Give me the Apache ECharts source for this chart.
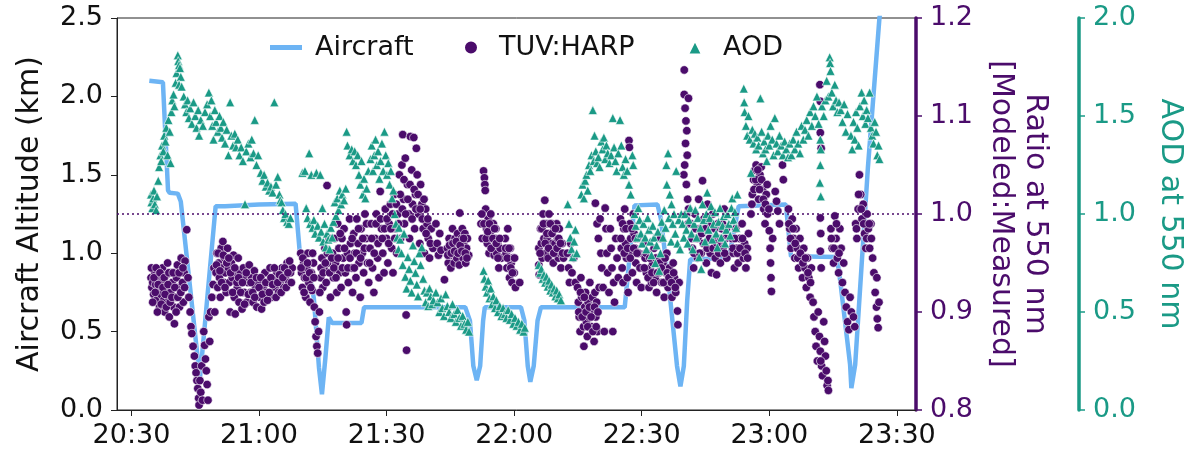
<!DOCTYPE html>
<html>
<head>
<meta charset="utf-8">
<script src="https://cdn.jsdelivr.net/npm/echarts@6/dist/echarts.min.js"></script>
<style>
html,body{margin:0;padding:0;background:#fff;}
#chart{width:1193px;height:453px;}
</style>
</head>
<body>
<div id="chart"></div>
<script>
// x values are minutes after 20:00
const xTickValues = [30, 60, 90, 120, 150, 180, 210];
const xTickLabels = ['20:30', '21:00', '21:30', '22:00', '22:30', '23:00', '23:30'];

// Aircraft altitude (km)
const aircraft = [
[34.2,2.10],[37.4,2.09],[38.6,1.40],[39.0,1.385],[40.9,1.38],[41.6,1.33],[46.1,0.20],[49.8,1.30],[52.0,1.30],[60.0,1.31],
[68.6,1.315],[69.6,1.0],[70.2,0.96],[71.4,0.94],[72.9,0.71],[74.1,0.27],[74.8,0.10],[75.6,0.33],[76.4,0.59],[77.2,0.555],
[84.1,0.555],[84.7,0.655],[108.5,0.655],[109.6,0.57],[110.4,0.28],[111.2,0.19],[112.0,0.28],[112.7,0.57],[113.1,0.655],
[121.6,0.655],[122.4,0.57],[123.2,0.28],[123.8,0.18],[124.6,0.28],[125.5,0.57],[126.3,0.655],[146.0,0.655],[148.3,1.305],
[153.7,1.31],[154.5,1.22],[156.4,0.79],[158.3,0.28],[159.1,0.15],[159.9,0.28],[160.7,0.70],[161.4,0.96],[170.5,0.97],
[172.8,1.30],[183.9,1.31],[185.1,0.98],[195.9,0.975],[196.7,0.82],[199.0,0.29],[199.3,0.14],[200.2,0.29],[203.2,1.55],
[205.9,2.5],[206.6,2.63]
];

// TUV:HARP ratio (modeled : measured)
const tuvHarp = [
[34.6,0.935],[34.8,0.925],[35.0,0.93],[35.2,0.918],[35.5,0.94],[35.7,0.928],[35.9,0.912],[36.2,0.922],[36.4,0.935],[36.6,0.905],
[36.9,0.918],[37.1,0.93],[37.3,0.945],[37.6,0.912],[37.8,0.9],[38.0,0.925],[38.3,0.938],[38.5,0.95],[38.7,0.915],[38.9,0.895],
[39.2,0.92],[39.4,0.94],[39.6,0.93],[39.9,0.905],[40.1,0.888],[40.3,0.915],[40.6,0.935],[40.8,0.948],[41.0,0.925],[41.3,0.905],
[41.5,0.94],[41.7,0.955],[42.0,0.93],[42.2,0.91],[42.4,0.94],[42.6,0.952],
[34.7,0.945],[35.0,0.91],[35.3,0.935],[35.6,0.92],[35.8,0.945],[36.1,0.9],[36.3,0.928],[36.7,0.94],[37.0,0.908],[37.4,0.925],
[37.7,0.935],[37.9,0.918],[38.2,0.905],[38.6,0.928],[38.8,0.94],[39.1,0.91],[39.5,0.915],[39.8,0.94],[40.2,0.925],[40.5,0.9],
[40.9,0.915],[41.2,0.94],[41.6,0.92],[42.1,0.945],[42.5,0.925],
[43.0,0.984],[43.3,0.935],[43.5,0.915],[43.8,0.9],[44.0,0.885],[44.2,0.878],[44.5,0.865],[44.8,0.855],[45.0,0.845],[45.2,0.838],
[45.4,0.83],[45.6,0.822],[45.8,0.812],[45.9,0.805],[46.1,0.83],[46.3,0.818],[46.5,0.845],[46.7,0.81],[47.0,0.88],[47.2,0.866],
[47.4,0.852],[47.6,0.84],[47.8,0.826],[48.0,0.81],[48.2,0.895],[48.4,0.87],[48.6,0.9],[48.9,0.915],[49.2,0.928],[49.4,0.945],[49.6,0.9],
[49.9,0.94],[50.1,0.96],[50.3,0.925],[50.5,0.95],[50.7,0.935],[50.9,0.915],[51.1,0.965],[51.3,0.945],[51.5,0.972],[51.7,0.93],
[51.9,0.955],[52.1,0.94],[52.3,0.92],[52.6,0.965],[52.8,0.945],[53.0,0.93],[53.2,0.9],[53.5,0.95],[53.7,0.935],[54.0,0.958],
[54.2,0.915],[54.4,0.898],[54.6,0.94],[54.9,0.925],[55.1,0.955],[55.3,0.91],[55.6,0.94],[55.8,0.93],[56.0,0.903],[56.3,0.945],
[56.5,0.92],[56.8,0.935],[57.1,0.91],[57.4,0.93],[57.7,0.948],[58.0,0.92],[58.3,0.935],[58.6,0.91],[58.9,0.942],[59.2,0.925],
[59.5,0.905],[59.8,0.93],[60.2,0.915],[60.6,0.903],[61.0,0.925],[61.4,0.94],[61.8,0.92],[62.2,0.93],[62.6,0.945],[63.0,0.915],
[63.4,0.935],[63.8,0.925],[64.2,0.94],[64.6,0.92],[65.0,0.93],[65.4,0.945],[65.8,0.925],[66.2,0.935],[66.6,0.95],[67.0,0.93],
[67.4,0.94],[67.8,0.945],
[50.0,0.948],[50.4,0.96],[50.8,0.942],[51.2,0.93],[51.6,0.958],[52.0,0.925],[52.4,0.95],[52.9,0.955],[53.3,0.94],[53.8,0.92],
[54.3,0.945],[54.8,0.93],[55.2,0.935],[55.7,0.92],[56.1,0.93],[56.6,0.908],[57.0,0.94],[57.5,0.918],[58.1,0.93],[58.5,0.92],
[59.0,0.915],[59.4,0.935],[60.0,0.925],[60.4,0.935],[60.8,0.918],[61.2,0.91],[61.6,0.93],[62.0,0.912],[62.4,0.92],[62.8,0.935],
[63.2,0.928],[63.6,0.945],[64.0,0.915],[64.4,0.93],[64.8,0.938],[65.2,0.92],[65.6,0.935],[66.0,0.945],[66.4,0.925],[66.8,0.94],
[67.2,0.952],[67.6,0.93],
[69.8,0.96],[70.0,0.94],[70.2,0.925],[70.5,0.95],[70.7,0.935],[71.0,0.915],[71.2,0.945],[71.5,0.96],[71.7,0.93],[72.0,0.91],
[72.3,0.94],[72.5,0.922],[72.8,0.95],[73.0,0.905],[73.2,0.89],[73.4,0.875],[73.6,0.865],[73.8,0.858],[74.0,0.88],[74.2,0.9],
[74.5,0.935],[74.8,0.955],[75.0,0.925],[75.3,0.945],[75.5,0.965],[75.8,0.93],[76.0,1.029],[76.2,0.95],[76.5,0.975],[76.8,0.915],[77.0,0.94],
[77.3,0.96],[77.5,0.935],[77.8,0.975],[78.0,0.95],[78.3,0.92],[78.5,0.99],[78.8,0.965],[79.0,0.94],[79.3,0.925],[79.5,0.975],
[79.8,0.955],[80.0,0.985],[80.3,0.94],[80.5,0.9],[80.6,0.887],[80.8,0.96],[81.0,0.93],[81.3,0.995],[81.5,0.97],[81.8,0.945],
[82.0,0.92],[82.3,0.98],[82.5,0.96],[82.8,0.935],[83.0,0.995],[83.3,0.97],[83.5,0.95],[83.8,0.915],[84.0,0.985],[84.3,0.96],
[84.6,0.94],[84.9,1.0],[85.2,0.975],[85.5,0.95],
[69.9,0.945],[70.3,0.955],[70.6,0.92],[71.1,0.935],[71.4,0.95],[71.9,0.94],[72.2,0.925],[72.6,0.96],[72.9,0.935],[74.3,0.92],
[74.6,0.945],[75.1,0.94],[75.6,0.95],[76.1,0.96],[76.6,0.94],[77.1,0.955],[77.6,0.945],[78.1,0.935],[78.6,0.955],[79.1,0.98],
[79.6,0.945],[80.1,0.965],[80.9,0.945],[81.4,0.955],[81.9,0.975],[82.4,0.945],[82.9,0.96],[83.4,0.985],[83.9,0.955],[84.4,0.975],
[84.8,0.965],[85.3,0.99],
[85.8,0.93],[86.1,0.965],[86.4,0.99],[86.7,0.945],[87.0,0.92],[87.3,0.975],[87.6,1.0],[87.9,0.955],[88.2,0.935],[88.5,1.023],
[88.8,0.985],[89.1,0.96],[89.4,0.94],[89.7,1.005],[90.0,0.975],[90.3,0.95],[90.6,0.99],[90.9,1.01],[91.2,0.965],[91.5,0.94],
[91.8,1.02],[92.1,0.985],[92.4,0.96],[92.7,1.0],[93.0,1.04],[93.3,0.975],[93.6,1.05],[93.8,1.081],[94.0,1.015],[94.2,0.99],
[94.4,1.057],[94.6,0.897],[94.7,0.861],[94.9,1.03],[95.2,1.0],[95.4,0.975],[95.6,1.079],[95.9,1.045],[96.1,1.01],[96.4,1.078],
[96.6,0.985],[96.8,1.02],[97.0,1.067],[97.2,1.04],[97.5,1.0],[97.8,0.97],[98.0,1.03],[98.3,1.01],[98.6,0.985],[98.9,0.96],
[99.2,1.005],[99.5,0.99],[99.8,0.975],[100.1,0.955],[100.5,0.985],[100.9,0.965],
[86.0,0.95],[86.5,0.975],[87.1,0.96],[87.5,0.99],[88.0,0.97],[88.6,0.995],[89.0,0.975],[89.5,0.985],[90.1,0.995],[90.5,0.97],
[91.0,0.985],[91.4,1.0],[91.9,0.975],[92.3,1.01],[92.8,0.99],[93.2,1.02],[93.7,1.005],[94.1,1.035],[94.5,1.0],[95.0,1.015],
[95.5,1.03],[96.0,0.995],[96.5,1.025],[96.9,1.005],[97.4,1.02],[97.9,1.005],[98.4,0.995],[98.8,1.015],[99.3,0.98],[99.7,0.995],[100.3,0.97],
[101.6,0.99],[101.9,0.97],[102.2,0.958],[102.5,0.98],[102.8,0.963],[103.6,0.933],
[104.3,0.965],[104.5,0.95],[104.7,0.975],[104.9,0.958],[105.1,0.945],[105.3,0.97],[105.5,0.985],[105.7,0.96],[105.9,0.95],[106.1,0.975],
[106.3,0.965],[106.5,0.955],[106.7,0.98],[106.9,0.97],[107.1,0.948],[107.2,1.001],[107.4,0.96],[107.6,0.975],[107.8,0.985],[108.0,0.955],
[108.2,0.968],[108.4,0.98],[108.6,0.95],[108.8,0.965],[109.0,0.975],[109.3,0.958],
[104.4,0.958],[104.8,0.968],[105.2,0.96],[105.6,0.97],[106.0,0.962],[106.4,0.972],[106.8,0.96],[107.3,0.968],[107.7,0.962],[108.1,0.975],
[108.5,0.96],[108.9,0.955],
[112.2,0.99],[112.5,0.975],[112.8,1.044],[113.0,1.037],[113.1,1.03],[113.2,1.024],[113.3,1.005],[113.5,0.985],[113.7,0.97],[113.9,0.995],
[114.1,0.96],[114.3,0.98],[114.5,1.0],[114.7,0.975],[114.9,0.965],[115.1,0.99],[115.3,0.958],[115.5,0.975],[115.7,0.985],[115.9,0.96],
[116.1,0.97],[116.4,0.945],[116.7,0.965],[117.0,0.955],[117.9,0.975],[118.1,0.96],[118.3,0.945],[118.5,0.985],[118.7,0.955],[118.9,0.935],
[119.1,0.965],[119.3,0.95],[119.5,0.93],[119.7,0.955],[120.0,0.94],[120.3,0.925],[121.3,0.93],
[112.4,1.0],[112.9,0.99],[113.4,0.975],[113.8,0.982],[114.2,0.99],[114.6,0.965],[115.0,0.975],[115.4,0.985],[115.8,0.97],[116.2,0.955],
[116.6,0.975],[118.0,0.965],[118.4,0.955],[118.8,0.965],[119.2,0.945],[119.6,0.94],[120.1,0.955],
[125.8,0.965],[125.8,0.948],[125.9,0.938],[126.2,0.985],[126.4,0.97],[126.6,0.955],[126.8,1.0],[127.0,0.975],[127.2,1.014],[127.4,0.96],
[127.6,0.99],[127.8,0.975],[128.0,0.955],[128.2,1.0],[128.4,0.98],[128.6,0.965],[128.8,0.99],[129.0,0.97],[129.2,0.95],[129.4,0.985],
[129.6,0.97],[129.8,0.96],[130.0,0.99],[130.2,0.975],[130.4,0.955],[130.6,0.985],[130.8,0.96],[131.0,0.945],[131.3,0.97],[131.6,0.955],
[126.1,0.96],[126.5,0.985],[126.9,0.99],[127.3,0.97],[127.7,0.98],[128.1,0.965],[128.5,0.99],[128.9,0.98],[129.3,0.96],[129.7,0.985],
[130.1,0.965],[130.5,0.975],[130.9,0.97],[131.4,0.96],
[132.5,0.96],[132.8,0.945],[133.0,0.93],[133.3,0.97],[133.6,0.94],[134.0,0.955],[134.4,0.93],
[134.9,0.925],[135.1,0.91],[135.3,0.895],[135.5,0.88],[135.7,0.935],[135.9,0.915],[136.1,0.9],[136.3,0.885],[136.4,0.865],[136.6,0.905],
[136.8,0.92],[137.0,0.89],[137.2,0.875],[137.4,0.91],[137.6,0.895],[137.8,0.93],[138.0,0.905],[138.2,0.885],[138.4,0.915],[138.6,0.9],
[138.8,0.87],[139.0,0.92],[139.2,0.895],[139.4,0.91],[139.6,0.88],[140.0,0.925],[141.2,0.88],[143.2,0.88],
[135.2,0.9],[135.6,0.92],[136.0,0.895],[136.5,0.915],[136.9,0.9],[137.3,0.885],[137.7,0.905],[138.1,0.895],[138.5,0.88],[138.9,0.905],
[139.3,0.885],[139.7,0.9],
[139.1,1.011],[139.5,0.99],[139.8,0.975],[140.2,0.995],[140.4,0.96],[140.6,0.945],[140.9,0.925],[141.4,1.006],[141.6,0.985],[141.8,0.96],
[142.0,0.94],[142.3,0.92],[142.6,0.985],[142.8,0.965],[143.0,0.945],[143.4,0.93],[143.6,0.91],[143.9,0.975],[144.2,0.955],[144.5,0.935],
[145.0,0.995],[145.2,0.965],[145.4,0.945],[145.6,0.93],[145.8,0.985],[146.0,1.005],[146.2,0.97],[146.4,0.955],[146.6,0.935],[146.8,0.92],
[147.0,1.075],[147.1,1.068],[147.2,0.99],[147.4,0.975],[147.6,0.96],[147.8,0.94],[148.0,1.0],[148.2,0.98],[148.4,0.965],[148.6,0.95],
[148.8,0.93],[149.0,0.975],[149.3,0.96],[149.6,0.945],[149.9,0.925],
[145.1,0.975],[145.5,0.99],[145.9,0.96],[146.3,0.985],[146.7,0.965],[147.3,0.955],[147.7,0.985],[148.1,0.965],[148.5,0.975],[148.9,0.96],
[150.5,0.97],[150.8,0.955],[151.1,0.94],[151.4,0.96],[151.7,0.925],[152.0,0.945],[152.3,0.93],[152.6,0.95],[152.9,0.965],[153.2,0.935],
[153.5,0.92],[153.8,0.955],[154.1,0.94],[154.4,0.975],[154.7,0.93],[155.0,0.95],[155.3,0.915],[155.6,0.94],[155.9,0.96],[156.2,0.925],
[156.5,0.945],[156.8,0.93],[157.1,0.915],[157.4,0.95],[157.7,0.935],[158.0,0.92],[158.4,0.901],[158.5,0.887],[158.8,0.93],
[150.6,0.945],[151.0,0.96],[151.5,0.935],[151.9,0.955],[152.4,0.94],[152.8,0.93],[153.3,0.955],[153.7,0.94],[154.2,0.95],[154.6,0.945],
[155.1,0.93],[155.5,0.955],[156.0,0.94],[156.4,0.935],[157.0,0.93],[157.5,0.94],[157.9,0.925],
[160.0,1.147],[160.0,1.122],[161.0,1.118],[160.2,1.108],[160.4,1.095],[160.6,1.085],[160.3,1.072],[160.7,1.06],[159.9,1.04],[160.5,1.03],
[160.8,1.015],[160.6,1.0],[160.9,0.99],[160.1,1.05],[161.0,1.005],
[161.6,0.99],[161.9,0.965],[162.2,0.945],[162.5,1.0],[162.8,0.975],[163.1,0.955],[163.4,1.015],[163.7,0.985],[164.0,0.96],[164.3,1.034],
[164.6,0.995],[164.9,0.97],[165.2,0.95],[165.5,1.01],[165.8,0.985],[166.1,0.96],[166.4,0.94],[166.7,1.0],[167.0,0.975],[167.3,0.955],
[167.6,0.938],[167.9,0.99],[168.2,0.97],[168.5,0.95],[168.8,0.985],[169.1,0.965],[169.4,1.005],[169.7,0.975],[170.0,0.955],
[171.2,0.975],[171.5,0.96],[171.8,0.945],[172.1,0.985],[172.4,0.965],[172.7,0.95],[173.0,0.975],[173.3,0.96],[173.6,0.99],[173.9,0.955],
[174.2,0.97],[174.5,0.945],[174.8,0.965],[175.1,0.98],
[161.8,0.975],[162.3,0.96],[162.7,0.985],[163.2,0.975],[163.6,0.96],[164.1,0.98],[164.5,0.97],[165.0,0.985],[165.4,0.965],[165.9,0.975],
[166.3,0.99],[166.8,0.965],[167.2,0.985],[167.7,0.97],[168.1,0.96],[168.6,0.975],[169.0,0.99],[169.5,0.96],[169.9,0.985],[171.4,0.965],
[171.9,0.975],[172.5,0.96],[173.1,0.965],[173.7,0.975],[174.3,0.96],[174.9,0.955],
[175.7,1.0],[176.0,1.02],[176.3,1.035],[176.6,1.045],[176.9,1.05],[177.2,1.03],[177.5,1.015],[177.8,1.04],[178.1,1.048],[178.4,1.025],
[178.7,1.005],[179.0,0.99],[179.3,1.02],[179.6,1.0],[180.0,0.983],[180.2,0.965],[180.3,0.95],[180.4,0.935],[180.5,0.921],[180.8,0.975],
[181.4,1.023],[181.7,1.013],[182.0,1.003],[182.4,0.99],[183.1,1.05],[183.3,1.035],
[175.9,1.01],[176.4,1.025],[176.8,1.035],[177.3,1.045],[177.7,1.025],[178.2,1.035],[178.6,1.015],[179.1,1.01],[179.5,1.03],[179.9,1.005],
[184.5,1.005],[184.8,0.985],[185.1,0.965],[185.4,0.995],[185.7,0.975],[186.0,0.955],[186.3,0.985],[186.6,0.965],[186.9,0.945],[187.2,0.975],
[187.5,0.955],[187.8,0.935],[188.1,0.965],[188.4,0.945],[188.7,0.925],[189.0,0.955],[189.3,0.935],[189.6,0.915],[189.9,0.945],
[184.6,0.99],[185.0,0.975],[185.6,0.985],[186.1,0.97],[186.7,0.955],[187.3,0.96],[187.9,0.95],[188.5,0.955],[189.1,0.94],[189.7,0.93],
[190.3,0.91],[190.5,0.895],[190.8,0.88],[191.0,0.865],[191.3,0.85],[191.5,0.9],[191.8,0.875],[192.0,0.86],[192.3,0.845],[192.5,0.835],
[192.8,0.89],[193.0,0.87],[193.2,0.855],[193.4,0.84],[193.6,0.825],[193.8,0.83],[193.9,0.82],[192.1,0.85],[191.9,1.132],[192.0,1.115],
[192.0,1.083],[192.2,1.067],[192.0,0.996],[192.1,0.98],[192.0,0.962],[192.2,0.945],
[194.5,0.985],[194.8,0.965],[195.1,0.95],[195.4,0.998],[195.7,0.975],[196.0,0.955],[196.3,0.94],[196.6,0.985],[196.9,0.965],[197.2,0.93],[197.5,0.95],
[194.6,0.975],[195.2,0.965],[195.8,0.99],[196.4,0.96],
[197.8,0.92],[198.1,0.905],[198.4,0.89],[198.7,0.882],[199.0,0.915],[199.3,0.9],[199.8,0.895],[200.1,0.885],
[200.3,0.99],[200.6,0.975],[200.9,1.005],[201.2,1.04],[201.5,1.02],[201.8,0.995],[202.1,1.01],[202.4,0.98],[202.7,0.965],[203.0,1.0],
[203.3,0.985],[203.6,0.965],[203.9,0.99],
[200.5,0.985],[201.0,1.02],[201.6,1.005],[202.2,0.99],[202.9,0.975],[203.5,0.99],
[204.0,0.975],[204.3,0.955],[204.6,0.94],[204.9,0.92],[205.2,0.905],[205.4,0.893],[205.6,0.884],[205.8,0.91],[205.3,0.935]
];

// AOD at 550 nm
const aod = [
[34.6,1.1],[34.7,1.06],[34.9,1.03],[35.1,1.08],[35.3,1.12],[35.5,1.05],[35.8,1.02],[36.0,1.09],[36.3,1.17],[36.5,1.24],
[36.8,1.3],[37.0,1.27],[37.2,1.35],[37.5,1.32],[37.7,1.4],[38.0,1.37],[38.2,1.44],[38.5,1.3],[38.7,1.48],[39.0,1.42],[39.2,1.26],
[39.4,1.52],[39.6,1.58],[39.9,1.61],[40.1,1.55],[40.4,1.67],[40.6,1.72],[40.9,1.81],[41.0,1.78],[41.2,1.76],[41.4,1.745],[41.6,1.7],[41.2,1.66],
[41.8,1.65],[42.3,1.6],[42.6,1.56],[42.9,1.52],[43.2,1.58],[43.5,1.49],[43.8,1.54],[44.2,1.46],[44.6,1.57],[45.0,1.5],
[45.3,1.44],[45.7,1.53],[45.9,1.4],[46.3,1.48],[46.8,1.45],[47.3,1.52],[47.8,1.56],[48.2,1.62],[48.5,1.5],[48.8,1.58],
[49.0,1.45],[49.3,1.38],[49.6,1.53],[49.9,1.47],[50.3,1.42],[50.7,1.5],[51.0,1.44],[51.3,1.39],[51.6,1.47],[52.0,1.36],
[52.4,1.43],[52.8,1.3],[53.2,1.57],[53.5,1.4],[53.9,1.35],[54.3,1.41],[54.6,1.34],[55.0,1.38],[55.4,1.3],[55.8,1.34],
[56.2,1.27],[56.7,1.05],[57.0,1.32],[57.5,1.36],[58.0,1.29],[58.3,1.38],[58.7,1.31],[59.0,1.48],[59.4,1.25],[59.8,1.3],
[60.4,1.21],[60.8,1.17],[61.2,1.2],[61.6,1.14],[62.0,1.16],[62.4,1.12],[62.8,1.14],[63.2,1.11],[63.6,1.57],[64.0,1.15],
[64.4,1.19],[64.8,1.1],[65.0,1.07],[65.3,1.06],[65.6,1.02],[65.9,0.98],[66.2,1.0],[66.6,0.96],[67.0,0.95],[67.4,0.98],
[70.2,1.21],[70.8,1.22],[71.1,1.03],[71.4,0.98],[71.8,1.31],[72.0,0.95],[72.3,1.2],[72.6,0.93],[72.9,0.97],[73.2,0.9],
[73.5,1.21],[73.8,0.94],[74.1,0.88],[74.4,1.2],[74.6,0.91],[74.9,1.03],[75.1,0.86],[75.4,0.95],[75.7,0.83],[76.0,0.9],
[76.3,0.87],[76.6,0.82],[76.9,0.93],[77.2,0.88],[77.5,0.96],[77.8,1.06],[78.1,0.99],[78.4,1.08],[78.7,1.02],[79.0,1.12],
[79.3,1.05],[79.6,1.1],[80.0,1.07],[80.4,1.13],
[80.6,1.42],[80.8,1.35],[81.3,1.3],[81.8,1.33],[82.1,1.27],[82.5,1.32],[82.8,1.25],[83.2,1.3],[83.5,1.2],[83.8,1.15],
[84.1,1.27],[84.4,1.1],[84.7,1.18],[85.0,1.08],[85.3,1.13],[85.7,1.22],[86.2,1.28],[86.5,1.35],[86.8,1.22],[87.1,1.3],
[87.4,1.38],[87.7,1.25],[88.0,1.32],[88.3,1.18],[88.6,1.27],[88.9,1.36],[89.2,1.22],[89.5,1.42],[89.8,1.3],[90.1,1.2],
[90.4,1.26],[90.7,1.15],[91.0,1.22],[91.3,1.08],[91.6,1.12],[91.9,1.0],[92.2,0.95],[92.5,0.88],[92.8,0.82],
[92.9,0.93],[93.2,0.87],[93.5,0.8],[93.8,0.74],[94.1,0.9],[94.4,0.68],[94.7,0.62],[95.0,0.78],[95.3,0.72],[95.6,0.66],
[95.9,0.6],[96.2,0.84],[96.5,0.76],[96.8,0.7],[97.1,0.64],[97.4,0.58],[97.7,0.8],[98.0,0.74],[98.3,0.83],[98.6,0.67],
[98.9,0.61],[99.2,0.55],[99.5,0.6],[99.8,0.53],[100.1,0.62],[100.4,0.58],[100.7,0.54],[101.0,0.56],
[101.6,0.6],[102.0,0.55],[102.4,0.5],[102.8,0.57],[103.1,0.52],[103.5,0.48],[103.9,0.59],[104.3,0.53],[104.7,0.5],[105.1,0.47],
[105.5,0.54],[105.9,0.49],[106.3,0.45],[106.7,0.51],[107.1,0.47],[107.5,0.43],[107.9,0.48],[108.3,0.44],[108.7,0.41],[109.1,0.45],[109.4,0.4],
[112.8,0.71],[113.0,0.67],[113.3,0.63],[113.6,0.6],[113.9,0.66],[114.2,0.57],[114.5,0.62],[114.8,0.54],[115.1,0.58],[115.5,0.52],
[115.8,0.56],[116.2,0.5],[116.6,0.53],[117.0,0.48],[117.4,0.52],[117.8,0.49],[118.2,0.47],[118.6,0.51],[119.0,0.46],[119.4,0.49],
[119.8,0.44],[120.2,0.47],[120.6,0.43],[121.0,0.45],[121.4,0.41],[121.8,0.44],[122.2,0.4],[122.5,0.42],
[125.8,0.74],[126.1,0.7],[126.4,0.72],[126.7,0.67],[127.0,0.69],[127.3,0.65],[127.6,0.68],[127.9,0.63],[128.2,0.66],[128.5,0.61],
[128.8,0.64],[129.1,0.6],[129.4,0.62],[129.7,0.58],[130.0,0.61],[130.3,0.57],[130.6,0.59],[131.0,0.56],
[132.6,1.05],[132.9,0.95],[133.2,0.88],[133.5,0.82],[133.8,0.78],[134.1,0.86],[134.4,0.92],[134.7,0.8],
[135.8,1.1],[136.1,1.15],[136.4,1.08],[136.7,1.17],[137.0,1.2],[137.3,1.12],[137.6,1.25],[137.9,1.22],[138.2,1.3],[138.5,1.53],
[138.7,1.27],[138.9,1.4],[139.2,1.32],[139.5,1.26],[139.8,1.29],[140.1,1.24],[140.5,1.37],[140.8,1.33],[141.1,1.39],[141.4,1.28],
[141.7,1.35],[142.0,1.31],[142.4,1.26],[142.8,1.3],[143.2,1.49],[143.5,1.34],[143.8,1.27],[144.1,1.22],[144.5,1.31],[144.9,1.48],
[145.2,1.35],[145.5,1.24],[145.8,1.2],[146.2,1.28],[146.6,1.22],[147.0,1.15],[147.4,1.1],[147.8,1.3],[148.0,1.25],
[148.3,1.0],[148.6,0.94],[148.9,0.88],[149.2,1.03],[149.5,0.97],[149.8,0.9],[150.1,0.85],[150.4,0.95],[150.8,0.88],[151.1,0.82],
[151.4,0.98],[151.7,0.92],[152.0,0.86],[152.3,0.79],[152.6,0.94],[152.9,0.88],[153.2,0.75],[153.5,0.84],[153.8,0.91],[154.1,0.71],
[154.4,0.8],[154.7,0.96],[155.0,0.88],[155.3,1.02],[155.6,0.93],[155.8,1.25],[155.9,1.15],[156.2,1.31],[156.4,0.98],[156.6,1.1],
[156.9,0.86],[157.0,1.05],[157.3,0.95],[157.6,1.0],[157.9,0.9],[158.1,1.22],[158.4,0.85],[158.7,0.97],[159.0,0.82],[159.3,1.0],
[159.6,0.95],[159.9,0.88],[160.2,1.0],[160.5,0.92],[160.8,0.85],[161.1,0.97],[161.4,1.03],[161.7,0.9],[162.0,0.82],[162.3,0.95],
[162.6,1.02],[162.9,0.88],[163.2,0.98],[163.5,0.78],[163.8,0.93],[164.0,0.72],[164.3,1.05],[164.6,0.97],[164.9,0.86],[165.2,1.0],
[165.4,1.11],[165.7,0.92],[166.0,0.98],[166.3,1.04],[166.6,0.87],[166.9,0.95],[167.2,1.01],[167.5,0.9],[167.8,0.83],[168.1,0.96],
[168.4,1.03],[168.7,0.88],[169.0,0.94],[169.3,0.99],[169.6,0.85],[169.9,0.92],[170.2,1.0],[170.5,0.95],[170.8,0.89],[171.1,1.03],
[171.3,1.08],[171.6,0.97],[171.9,1.01],[172.2,0.93],[172.5,1.1],
[174.0,1.64],[174.1,1.57],[174.2,1.52],[174.5,1.45],[174.8,1.4],[175.1,1.5],[175.4,1.38],[175.7,1.21],[176.0,1.43],[176.3,1.36],
[176.6,1.41],[176.9,1.33],[177.2,1.39],[177.5,1.35],[177.9,1.59],[178.2,1.42],[178.5,1.31],[178.8,1.37],[179.1,1.33],[179.4,1.27],
[179.7,1.4],[180.0,1.35],[180.3,1.45],[180.7,1.38],[181.0,1.3],[181.3,1.49],[181.7,1.36],[182.0,1.32],[182.4,1.4],[182.8,1.35],
[183.2,1.3],[183.6,1.37],[184.0,1.33],
[184.4,1.29],[184.8,1.36],[185.2,1.3],[185.6,1.38],[186.0,1.33],[186.4,1.42],[186.8,1.36],[187.2,1.31],[187.6,1.45],[188.0,1.38],
[188.4,1.43],[188.8,1.48],[189.2,1.4],[189.6,1.52],[190.0,1.45],[190.4,1.55],[190.8,1.5],[191.2,1.6],[191.6,1.46],
[192.0,1.38],[192.1,1.33],[192.0,1.25],[191.9,1.16],[192.1,1.09],[192.4,1.55],[192.8,1.5],[193.2,1.58],[193.5,1.68],[193.9,1.6],
[194.2,1.8],[194.3,1.77],[194.4,1.73],[194.7,1.62],[195.0,1.55],[195.4,1.66],[195.7,1.58],[196.0,1.52],[196.4,1.57],[196.8,1.53],
[197.2,1.47],[197.6,1.56],[198.0,1.42],[198.4,1.51],
[199.2,1.4],[199.5,1.33],[199.8,1.47],[200.1,1.38],[200.4,1.52],[200.7,1.44],[201.0,1.35],[201.3,1.55],[201.7,1.62],[202.0,1.5],
[202.3,1.58],[202.6,1.46],[202.9,1.53],[203.2,1.49],[203.6,1.62],[203.9,1.44],[204.2,1.4],[204.5,1.36],[204.8,1.47],[205.1,1.42],
[205.4,1.3],[205.7,1.35],[205.9,1.28]
];

const FONT = 'DejaVu Sans';
const PURPLE = '#4b0c6b';
const TEAL = '#1a9a86';
const BLUE = '#6db4f4';

const chart = echarts.init(document.getElementById('chart'), null, {renderer: 'canvas'});
const labelFmt = v => v.toFixed(1);
const legendText = {fontFamily: FONT, fontSize: 27, color: '#111', padding: [0, 0, 0, 0]};

chart.setOption({
  animation: false,
  backgroundColor: '#fff',
  grid: {left: 117, right: 266, top: 18, bottom: 43, show: true, borderColor: '#222', borderWidth: 1},
  legend: [
    {data: [{name: 'Aircraft', icon: 'rect'}], left: 265, top: 29, itemWidth: 32, itemHeight: 5,
     textStyle: Object.assign({}, legendText, {padding: [0, 0, 0, 8]})},
    {data: [{name: 'TUV:HARP', icon: 'circle'}], left: 458, top: 29, itemWidth: 14, itemHeight: 14,
     textStyle: Object.assign({}, legendText, {padding: [0, 0, 0, 16]})},
    {data: [{name: 'AOD', icon: 'triangle'}], left: 682, top: 29, itemWidth: 14, itemHeight: 14,
     textStyle: Object.assign({}, legendText, {padding: [0, 0, 0, 16]})}
  ],
  xAxis: {
    type: 'value', min: 26.6, max: 214.5,
    splitLine: {show: false},
    axisLine: {lineStyle: {color: '#222', width: 1}},
    axisTick: {show: true, length: 6, customValues: xTickValues, lineStyle: {color: '#222'}},
    axisLabel: {
      customValues: xTickValues, margin: 12,
      fontFamily: FONT, fontSize: 27, color: '#111',
      formatter: v => xTickLabels[xTickValues.indexOf(Math.round(v))] || ''
    }
  },
  yAxis: [
    {
      type: 'value', position: 'left', min: 0, max: 2.5, interval: 0.5,
      name: 'Aircraft Altitude (km)', nameLocation: 'middle', nameGap: 72, nameRotate: 90,
      nameTextStyle: {fontFamily: FONT, fontSize: 30, color: '#111'},
      splitLine: {show: false},
      axisLine: {show: true, lineStyle: {color: '#222', width: 1}},
      axisTick: {show: true, length: 6, lineStyle: {color: '#222'}},
      axisLabel: {fontFamily: FONT, fontSize: 27, color: '#111', margin: 14, formatter: labelFmt}
    },
    {
      type: 'value', position: 'right', min: 0.8, max: 1.2, interval: 0.1,
      name: 'Ratio at 550 nm\n[Modeled:Measured]', nameLocation: 'middle', nameGap: 60, nameRotate: -90,
      nameTextStyle: {fontFamily: FONT, fontSize: 30, color: PURPLE, lineHeight: 34},
      splitLine: {show: false},
      axisLine: {show: true, lineStyle: {color: PURPLE, width: 3.5}},
      axisTick: {show: true, length: 6, lineStyle: {color: PURPLE, width: 1.5}},
      axisLabel: {fontFamily: FONT, fontSize: 27, color: PURPLE, margin: 14, formatter: labelFmt}
    },
    {
      type: 'value', position: 'right', offset: 163, min: 0, max: 2, interval: 0.5,
      name: 'AOD at 550 nm', nameLocation: 'middle', nameGap: 76, nameRotate: -90,
      nameTextStyle: {fontFamily: FONT, fontSize: 30, color: TEAL},
      splitLine: {show: false},
      axisLine: {show: true, lineStyle: {color: TEAL, width: 3.5}},
      axisTick: {show: true, length: 6, lineStyle: {color: TEAL, width: 1.5}},
      axisLabel: {fontFamily: FONT, fontSize: 27, color: TEAL, margin: 14, formatter: labelFmt}
    }
  ],
  series: [
    {
      name: 'Aircraft', type: 'line', xAxisIndex: 0, yAxisIndex: 0, data: aircraft,
      symbol: 'none', showSymbol: false, clip: true, z: 1,
      lineStyle: {color: BLUE, width: 4.5}, itemStyle: {color: BLUE}
    },
    {
      name: 'TUV:HARP', type: 'scatter', xAxisIndex: 0, yAxisIndex: 1, data: tuvHarp,
      symbol: 'circle', symbolSize: 8.5, z: 2,
      itemStyle: {color: PURPLE, borderColor: '#fff', borderWidth: 0.6, opacity: 1},
      markLine: {
        silent: true, symbol: 'none', label: {show: false},
        lineStyle: {color: PURPLE, type: [2, 3], width: 1.5},
        data: [{yAxis: 1.0}]
      }
    },
    {
      name: 'AOD', type: 'scatter', xAxisIndex: 0, yAxisIndex: 2, data: aod,
      symbol: 'triangle', symbolSize: 9, z: 3,
      itemStyle: {color: TEAL, borderColor: '#fff', borderWidth: 0.6, opacity: 1}
    }
  ]
});
</script>
</body>
</html>
